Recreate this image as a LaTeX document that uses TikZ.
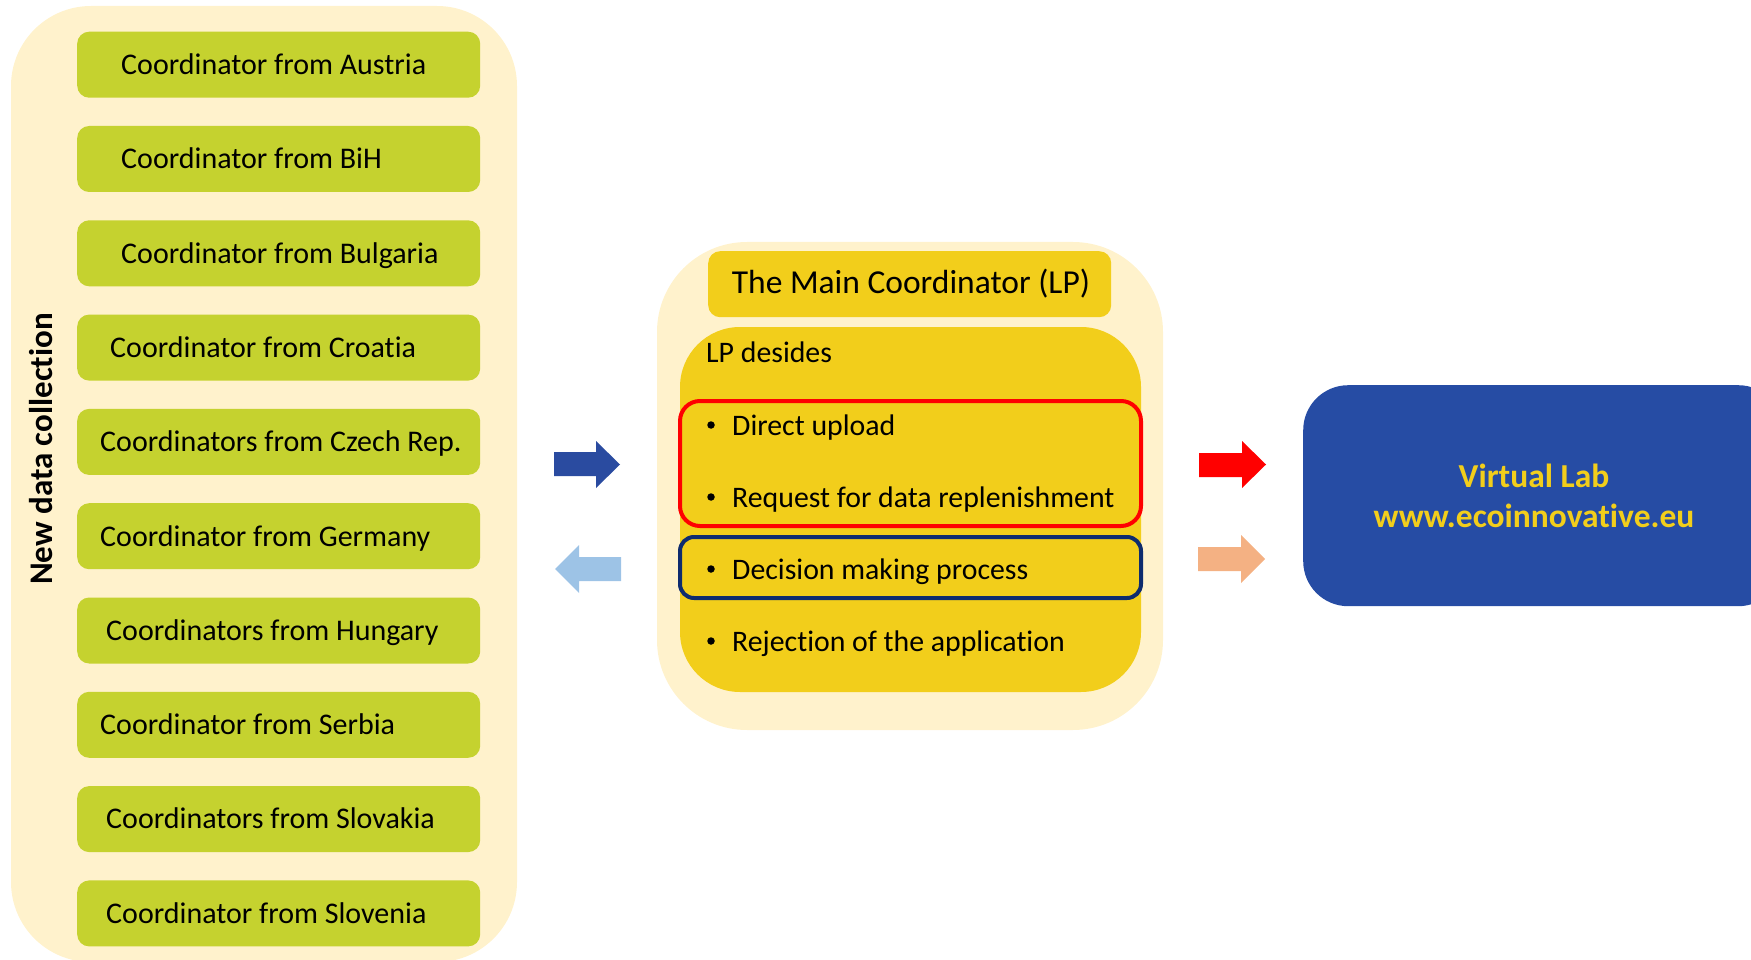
\documentclass[tikz,border=0pt]{standalone}
\usepackage{fontspec}
\setmainfont[Ligatures=NoCommon]{Carlito}
\definecolor{panel}{HTML}{FFF2CC}
\definecolor{cgreen}{HTML}{C5D22F}
\definecolor{cyellow}{HTML}{F2CE1B}
\definecolor{cblue}{HTML}{264CA4}
\definecolor{carrow}{HTML}{2A4BA0}
\definecolor{clight}{HTML}{9DC3E6}
\definecolor{corange}{HTML}{F4B183}
\definecolor{cnavy}{HTML}{0E2C6E}
\tikzset{
  panelbox/.style={fill=panel, rounded corners=#1},
  cbox/.style={fill=cgreen, rounded corners=12pt, minimum width=403pt, minimum height=66pt, inner sep=0pt, anchor=north west},
  ctext/.style={anchor=base west, inner sep=0pt, font=\fontsize{30}{36}\selectfont},
  btext/.style={anchor=base west, inner sep=0pt, font=\fontsize{29.8}{35}\selectfont},
  bdot/.style={circle, fill=black, inner sep=0pt, minimum size=7.5pt},
}
\begin{document}
\begin{tikzpicture}[x=1pt,y=-1pt]
\useasboundingbox (0,0) rectangle (1751,960);
\clip (0,0) rectangle (1751,960);
% left panel
\fill[panelbox=80pt] (11,6) rectangle (517,962);
\node[rotate=90, font=\bfseries\fontsize{33}{40}\selectfont, inner sep=0pt] (newdata) at (41,449) {New data collection};
% coordinator boxes
\foreach \i/\tx/\t in {0/121/Coordinator from Austria,1/121/Coordinator from BiH,2/121/Coordinator from Bulgaria,3/110/Coordinator from Croatia,4/100/Coordinators from Czech Rep.,5/100/Coordinator from Germany,6/106/Coordinators from Hungary,7/100/Coordinator from Serbia,8/106/Coordinators from Slovakia,9/106/Coordinator from Slovenia}{
  \node[cbox] (box\i) at (77,{31.5+94.3*\i}) {};
  \node[ctext] (txt\i) at (\tx,{31.5+94.3*\i+43}) {\t};
}
% arrows left
\fill[carrow] (554,452) -- (596,452) -- (596,441) -- (620,464.5) -- (596,488) -- (596,476) -- (554,476) -- cycle;
\fill[clight] (621,557) -- (579,557) -- (579,545) -- (555,569) -- (579,593) -- (579,581) -- (621,581) -- cycle;
% middle panel
\fill[panelbox=90pt] (657,242) rectangle (1163,730);
\node[fill=cyellow, rounded corners=12pt, minimum width=403pt, minimum height=66pt, inner sep=0pt, anchor=north west] (titlebox) at (708,251) {};
\node[anchor=base, inner sep=0pt, font=\fontsize{33.5}{40}\selectfont] (title) at (911,293) {The Main Coordinator (LP)};
\fill[cyellow, rounded corners=60pt] (680,327) rectangle (1141,692);
\node[btext] (lpd) at (706,362) {LP desides};
\draw[red, line width=4pt, rounded corners=20pt] (680,401) rectangle (1141,526);
\draw[cnavy, line width=4pt, rounded corners=14pt] (680,537) rectangle (1141,598);
\foreach \y/\t [count=\k] in {435/Direct upload,507/Request for data replenishment,579/Decision making process,651/Rejection of the application}{
  \node[bdot] (bul\k) at (711,{\y-10}) {};
  \node[btext] (item\k) at (732,\y) {\t};
}
% arrows right
\fill[red] (1199,453) -- (1242,453) -- (1242,441) -- (1266,464.5) -- (1242,488) -- (1242,477) -- (1199,477) -- cycle;
\fill[corange] (1198,547) -- (1241,547) -- (1241,535) -- (1265,559) -- (1241,583) -- (1241,571) -- (1198,571) -- cycle;
% virtual lab
\node[fill=cblue, rounded corners=45pt, minimum width=480pt, minimum height=221pt, inner sep=0pt, anchor=north west] (vlab) at (1303,385) {};
\node[anchor=base, inner sep=0pt, text=cyellow, font=\bfseries\fontsize{33.5}{40}\selectfont] (vl1) at (1534,487) {Virtual Lab};
\node[anchor=base, inner sep=0pt, text=cyellow, font=\bfseries\fontsize{33.5}{40}\selectfont] (vl2) at (1534,527) {www.ecoinnovative.eu};
\end{tikzpicture}
\end{document}
